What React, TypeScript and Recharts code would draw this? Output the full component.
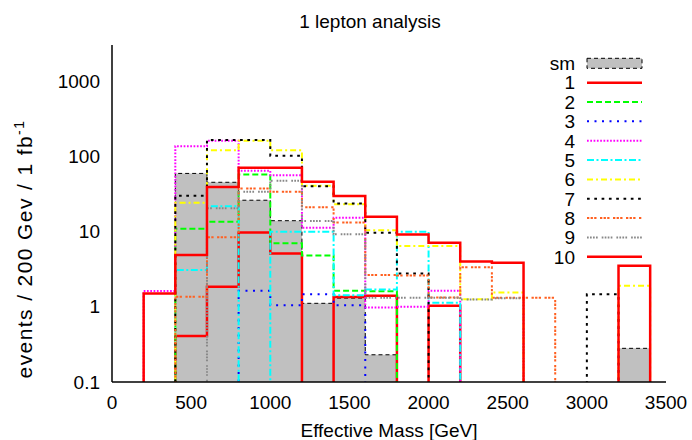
import React from 'react';
import { ComposedChart, Area, Line, XAxis, YAxis, Legend, Label } from 'recharts';

// 200 GeV bins, left edges; the last edge closes the final bin
const binStarts = [0, 200, 400, 600, 800, 1000, 1200, 1400, 1600, 1800, 2000, 2200, 2400, 2600, 2800, 3000, 3200];
const lastEdge = 3400;

const xTicks = [0, 500, 1000, 1500, 2000, 2500, 3000, 3500];
const yTicks = [0.1, 1, 10, 100, 1000];
const yMinorTicks = [0.2, 0.5, 2, 5, 20, 50, 200, 500, 2000];

// events per bin (0 = empty bin)
const sm = [0, 0, 59, 45, 26, 13.9, 1.11, 1.3, 0.23, 0, 0, 0, 0, 0, 0, 0, 0.28];
const s1 = [0, 0, 0.41, 1.84, 9.7, 5.1, 0, 1.35, 1.4, 0, 1.03, 0, 0, 0, 0, 0, 0];
const s2 = [0, 0, 10.9, 13.5, 57, 6.95, 4.8, 1.63, 1.6, 0, 0, 0, 0, 0, 0, 0, 0];
const s3 = [0, 0, 0, 0, 1.63, 1.05, 1.47, 1.05, 0, 0, 0, 0, 0, 0, 0, 0, 0];
const s4 = [0, 1.62, 136, 160, 64, 56, 11.2, 15.2, 0.98, 1.0, 1.63, 0, 0, 0, 0, 0, 0];
const s5 = [0, 0, 3.07, 21.7, 0, 9.9, 9.9, 1.42, 1.7, 9.9, 1.13, 0, 0, 0, 0, 0, 0];
const s6 = [0, 0, 24, 120, 160, 120, 40.5, 23, 10.4, 6.4, 6.4, 1.26, 1.55, 0, 0, 0, 1.9];
const s7 = [0, 0, 29.8, 164, 164, 101, 40, 23.6, 9.6, 2.77, 0, 0, 0, 0, 0, 1.46, 0];
const s8 = [0, 0, 1.36, 8.35, 37.3, 33.7, 20.9, 13.2, 2.64, 2.6, 1.33, 3.35, 1.32, 1.32, 0, 0, 0];
const s9 = [0, 0, 0, 20.3, 33.7, 47, 13.8, 9.15, 1.32, 1.32, 1.32, 1.25, 1.3, 0, 0, 0, 0];
const s10 = [0, 1.5, 4.86, 39, 70, 70, 45.7, 29.5, 15.7, 9.1, 7.1, 4.0, 3.85, 0, 0, 0, 3.5];

// empty bins are pushed below the 0.1 floor so the step drops off the plot
const EMPTY = 0.01;

const series = [
  { key: 's1', name: '1', values: s1, color: '#ff0000', width: 2.5, dash: undefined },
  { key: 's2', name: '2', values: s2, color: '#00ff00', width: 2, dash: '6 3' },
  { key: 's3', name: '3', values: s3, color: '#0000ff', width: 2, dash: '2 5.5' },
  { key: 's4', name: '4', values: s4, color: '#ff00ff', width: 2, dash: '1.7 1.6' },
  { key: 's5', name: '5', values: s5, color: '#00ffff', width: 2, dash: '7 2.5 2 2.5' },
  { key: 's6', name: '6', values: s6, color: '#ffff00', width: 2, dash: '6 3 2 3' },
  { key: 's7', name: '7', values: s7, color: '#000000', width: 2, dash: '2.7 4.6' },
  { key: 's8', name: '8', values: s8, color: '#ff6020', width: 2, dash: '2.3 1.3 2.3 1.3 2.3 3.5' },
  { key: 's9', name: '9', values: s9, color: '#888888', width: 2, dash: '1.7 1.3 1.7 1.3 1.7 1.3 1.7 4' },
  { key: 's10', name: '10', values: s10, color: '#ff0000', width: 2.5, dash: undefined },
];

const orEmpty = (v?: number) => (v && v > 0 ? v : EMPTY);

const rows = [...binStarts, lastEdge].map((x, i) => {
  const row: Record<string, number> = { x, sm: orEmpty(sm[i]) };
  series.forEach(s => {
    row[s.key] = orEmpty(s.values[i]);
  });
  return row;
});

const FONT = '"Liberation Sans", Arial, Helvetica, sans-serif';
const axisStroke = { stroke: '#000', strokeWidth: 1.5 };

const LegendBox = () => {
  const rowY = (i: number) => 63.3 + i * 19.35;
  return (
    <svg width={692} height={440} style={{ position: 'absolute', left: 0, top: 0, pointerEvents: 'none' }}>
      <text x={575} y={rowY(0) + 6.8} textAnchor="end" fontSize={19} fill="#000">sm</text>
      <rect x={587} y={rowY(0) - 5} width={55} height={10} fill="#c0c0c0" stroke="#000" strokeWidth={1} strokeDasharray="4 3" />
      {series.map((s, i) => (
        <g key={s.key}>
          <text x={575} y={rowY(i + 1) + 6.8} textAnchor="end" fontSize={19} fill="#000">{s.name}</text>
          <line x1={587} x2={642} y1={rowY(i + 1)} y2={rowY(i + 1)} stroke={s.color} strokeWidth={s.width} strokeDasharray={s.dash} />
        </g>
      ))}
    </svg>
  );
};

const YTitle = () => (
  <text x={32} y={249} transform="rotate(-90, 32, 249)" textAnchor="middle" fontSize={21} fill="#000" letterSpacing={1.4}>
    events / 200 Gev / 1 fb<tspan dy={-8} fontSize={14}>-1</tspan>
  </text>
);

const App: React.FC = () => {
  return (
    <div style={{ position: 'absolute', left: 0, top: 0, width: 692, height: 440, background: '#fff', fontFamily: FONT }}>
      <div style={{ position: 'absolute', left: 270, top: 11, width: 200, textAlign: 'center', fontSize: 19, lineHeight: '22px', color: '#000' }}>
        1 lepton analysis
      </div>
      <ComposedChart width={692} height={440} data={rows} margin={{ top: 45, right: 26, bottom: 0, left: 0 }}>
        <XAxis type="number" dataKey="x" domain={[0, 3500]} ticks={xTicks} allowDataOverflow interval={0}
          height={58} tickSize={0} tickMargin={14} tickLine={false} axisLine={axisStroke}
          tick={{ fill: '#000', fontSize: 19 }}>
          <Label value="Effective Mass [GeV]" position="insideBottom" offset={3} fill="#000" fontSize={19} />
        </XAxis>
        <XAxis xAxisId="top" orientation="top" mirror type="number" dataKey="x" domain={[0, 3500]} ticks={xTicks}
          allowDataOverflow interval={0} height={0} tickSize={8} tick={false} axisLine={axisStroke} tickLine={{ stroke: '#000' }} />
        <XAxis xAxisId="bottomTicks" orientation="bottom" mirror type="number" dataKey="x" domain={[0, 3500]} ticks={xTicks}
          allowDataOverflow interval={0} height={0} tickSize={8} tick={false} axisLine={false} tickLine={{ stroke: '#000' }} />

        <YAxis scale="log" domain={[0.1, 3000]} ticks={yTicks} allowDataOverflow interval={0} width={112}
          tickSize={0} tickMargin={12} tickLine={false} axisLine={axisStroke}
          tick={{ fill: '#000', fontSize: 19 }} tickFormatter={(v: number) => String(v)}>
          <Label content={<YTitle />} />
        </YAxis>
        <YAxis yAxisId="ticksL" orientation="left" mirror scale="log" domain={[0.1, 3000]} ticks={yTicks} allowDataOverflow
          interval={0} width={0} tickSize={8} tick={false} axisLine={false} tickLine={{ stroke: '#000' }} />
        <YAxis yAxisId="minorL" orientation="left" mirror scale="log" domain={[0.1, 3000]} ticks={yMinorTicks} allowDataOverflow
          interval={0} width={0} tickSize={4} tick={false} axisLine={false} tickLine={{ stroke: '#000' }} />
        <YAxis yAxisId="right" orientation="right" mirror scale="log" domain={[0.1, 3000]} ticks={yTicks} allowDataOverflow
          interval={0} width={0} tickSize={8} tick={false} axisLine={axisStroke} tickLine={{ stroke: '#000' }} />
        <YAxis yAxisId="minorR" orientation="right" mirror scale="log" domain={[0.1, 3000]} ticks={yMinorTicks} allowDataOverflow
          interval={0} width={0} tickSize={4} tick={false} axisLine={false} tickLine={{ stroke: '#000' }} />

        <Area dataKey="sm" name="sm" type="stepAfter" baseValue={0.1} fill="#c0c0c0" fillOpacity={1}
          stroke="#000" strokeWidth={1} strokeDasharray="4 3" dot={false} activeDot={false} isAnimationActive={false} />
        {series.map(s => (
          <Line key={s.key} dataKey={s.key} name={s.name} type="stepAfter" stroke={s.color} strokeWidth={s.width}
            strokeDasharray={s.dash} dot={false} activeDot={false} isAnimationActive={false} />
        ))}

        <Legend layout="horizontal" verticalAlign="middle" align="center" content={<LegendBox />}
          wrapperStyle={{ position: 'absolute', left: 0, top: 0, width: 692, height: 440, pointerEvents: 'none' }} />
      </ComposedChart>
    </div>
  );
};

export default App;
